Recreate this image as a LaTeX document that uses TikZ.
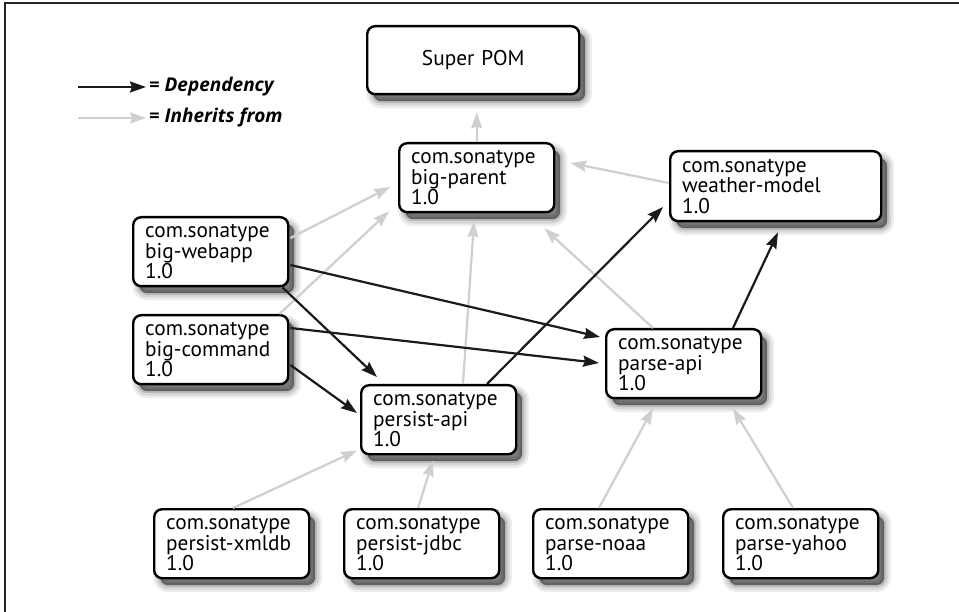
\documentclass[tikz,border=0pt]{standalone}
\usepackage{fontspec}
\setmainfont{PT Sans}
\newfontfamily\legfont{Open Sans}
\usetikzlibrary{arrows.meta,calc}
\definecolor{inhc}{HTML}{CFCFCF}
\definecolor{depc}{HTML}{1A1A1A}
\begin{document}
\begin{tikzpicture}[x=1pt,y=-1pt,
  shadowed/.style={
    preaction={fill=black, fill opacity=0.48, transform canvas={shift={(6pt,-7pt)}}},
    preaction={draw=black, draw opacity=0.07, line width=14pt, transform canvas={shift={(6pt,-7pt)}}},
    preaction={draw=black, draw opacity=0.09, line width=9pt, transform canvas={shift={(6pt,-7pt)}}},
    preaction={draw=black, draw opacity=0.12, line width=4pt, transform canvas={shift={(6pt,-7pt)}}}},
  pombox/.style={shadowed, draw=black, line width=2.4pt, rounded corners=8pt, fill=white,
    anchor=north west, minimum width=155pt, minimum height=69pt, text width=131pt,
    inner xsep=12pt, inner ysep=0pt, align=left, font=\fontsize{21.3}{20.5}\selectfont},
  inh/.style={draw=inhc, line width=2.2pt, -{Stealth[length=16pt,width=11pt,inset=2pt]}},
  dep/.style={draw=depc, line width=2.2pt, -{Stealth[length=16pt,width=11pt,inset=2pt]}},
  legtext/.style={anchor=west, inner sep=0pt, font=\legfont\fontsize{19}{21}\selectfont\bfseries\itshape}
]
\useasboundingbox (0,0) rectangle (959,612);
\fill[white] (0,0) rectangle (959,612);
\draw[line width=1.3pt, black!85] (5,612) -- (5,3) -- (959,3);

% legend
\coordinate (la) at (78,87);
\coordinate (lb) at (78,118);
\node[legtext] (ldep) at (149,87) {= Dependency};
\node[legtext] (linh) at (149,118) {= Inherits from};
\draw[dep] (la) -- ($(ldep.west)+(-3,0)$);
\draw[inh] (lb) -- ($(linh.west)+(-3,0)$);

% nodes
\node[pombox, minimum width=212pt, minimum height=68pt, text width=188pt, align=center] (sp) at (366,25) {Super POM};
\node[pombox] (bp) at (398,142) {com.sonatype\\big-parent\\1.0};
\node[pombox, minimum width=211pt, minimum height=70pt, text width=187pt] (wm) at (669,150) {com.sonatype\\weather-model\\1.0};
\node[pombox] (bw) at (132,216) {com.sonatype\\big-webapp\\1.0};
\node[pombox] (bc) at (132,314) {com.sonatype\\big-command\\1.0};
\node[pombox] (pa) at (360,384) {com.sonatype\\persist-api\\1.0};
\node[pombox] (pp) at (605,328) {com.sonatype\\parse-api\\1.0};
\node[pombox] (px) at (153,508) {com.sonatype\\persist-xmldb\\1.0};
\node[pombox] (pj) at (343,508) {com.sonatype\\persist-jdbc\\1.0};
\node[pombox] (pn) at (532,508) {com.sonatype\\parse-noaa\\1.0};
\node[pombox] (py) at (722,508) {com.sonatype\\parse-yahoo\\1.0};

% inherits
\draw[inh] (bp.north) -- ($(bp.north |- sp.south)+(0,17)$);
\draw[inh] ($(bw.north east)+(1,22)$) -- ($(bp.north west)+(-8,45)$);
\draw[inh] ($(bc.north east)+(-10,0)$) -- ($(bp.south west)+(-9,-2)$);
\draw[inh] ($(pa.north west)+(103,0)$) -- ($(bp.south west)+(76,8)$);
\draw[inh] ($(pp.north west)+(48,0)$) -- ($(bp.south east)+(-11,15)$);
\draw[inh] ($(wm.north west)+(0,33)$) -- ($(bp.north east)+(15,21)$);
\draw[inh] ($(px.north west)+(80,0)$) -- ($(pa.south west)+(-3,-5)$);
\draw[inh] ($(pj.north west)+(75,0)$) -- ($(pa.south west)+(73,5)$);
\draw[inh] ($(pn.north west)+(67,0)$) -- ($(pp.south west)+(48,9)$);
\draw[inh] ($(py.north west)+(71,0)$) -- ($(pp.south west)+(128,9)$);

% dependencies
\draw[dep] ($(bw.north east)+(1,49)$) -- ($(pp.north west)+(-5,9)$);
\draw[dep] ($(bc.north east)+(1,14)$) -- ($(pp.north west)+(-6,35)$);
\draw[dep] ($(bw.south east)+(-7,0)$) -- ($(pa.north west)+(17,-7)$);
\draw[dep] ($(bc.north east)+(1,51)$) -- ($(pa.north west)+(-3,29)$);
\draw[dep] ($(pa.north west)+(127,0)$) -- ($(wm.north west)+(-6,57)$);
\draw[dep] ($(pp.north west)+(128,0)$) -- ($(wm.south west)+(109,10)$);
\end{tikzpicture}
\end{document}
